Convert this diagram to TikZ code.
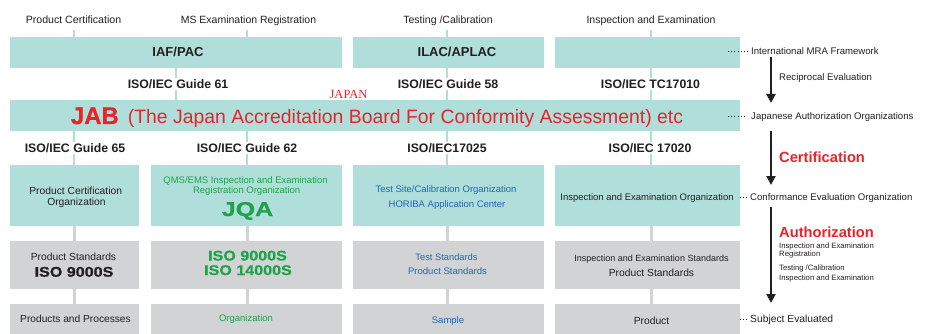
\documentclass[tikz,border=0pt]{standalone}
\usepackage{fontspec}
\setmainfont{Liberation Sans}
\newfontfamily\widebf{Liberation Sans}[FakeStretch=1.15, BoldFeatures={FakeBold=0.8}]
\newfontfamily\widerbf{Liberation Sans}[FakeStretch=1.25, BoldFeatures={FakeBold=0.8}]
\newfontfamily\heavybf{Liberation Sans}[BoldFeatures={FakeBold=0.8}]
\newfontfamily\serifjp{Liberation Serif}
\usetikzlibrary{arrows.meta}
\definecolor{tealbox}{HTML}{B0DEDA}
\definecolor{graybox}{HTML}{D1D3D4}
\definecolor{jred}{HTML}{E8232A}
\definecolor{jgreen}{HTML}{1EA34A}
\definecolor{jblue}{HTML}{2167B0}
\definecolor{txt}{HTML}{231F20}
\newcommand{\fsz}[1]{\fontsize{#1}{#1}\selectfont}
\tikzset{
  boxbase/.style={draw=none, inner sep=0, outer sep=0},
  tealb/.style={boxbase, fill=tealbox},
  grayb/.style={boxbase, fill=graybox},
  lbl/.style={inner sep=0, anchor=base, text=txt},
  hdr/.style={lbl, font=\bfseries\fsz{12.3}, fill=white, inner xsep=1pt, inner ysep=1.3pt},
  tealline/.style={draw=tealbox, line width=2.8pt},
  grayline/.style={draw=graybox, line width=3pt},
  dotline/.style={draw=txt, line width=0.9pt, dash pattern=on 0.9pt off 2.3pt},
  bigarrow/.style={draw=txt, line width=2pt, -{Triangle[width=9pt,length=9pt]}},
}
\begin{document}
\begin{tikzpicture}[x=1pt,y=-1pt]
\useasboundingbox (0,0) rectangle (926,334);
% column coordinates
\coordinate (c1) at (74,0);
\coordinate (c2) at (247,0);
\coordinate (c3) at (447,0);
\coordinate (c4) at (651,0);
\coordinate (c0) at (176,0);

% ---------- boxes ----------
\node[tealb, minimum width=332pt, minimum height=31pt] (iaf) at (176,52.5) {};
\node[tealb, minimum width=191pt, minimum height=31pt] (ilac) at (448.5,52.5) {};
\node[tealb, minimum width=185pt, minimum height=31pt] (tc) at (647.5,52.5) {};
\node[tealb, minimum width=730pt, minimum height=31pt] (jab) at (375,115.5) {};

\node[tealb, minimum width=129pt, minimum height=61pt] (r3a) at (74.5,195.5) {};
\node[tealb, minimum width=191pt, minimum height=61pt] (r3b) at (246.5,195.5) {};
\node[tealb, minimum width=191pt, minimum height=61pt] (r3c) at (448.5,195.5) {};
\node[tealb, minimum width=185pt, minimum height=61pt] (r3d) at (647.5,195.5) {};

\node[grayb, minimum width=129pt, minimum height=48pt] (r4a) at (74.5,265) {};
\node[grayb, minimum width=191pt, minimum height=48pt] (r4b) at (246.5,265) {};
\node[grayb, minimum width=191pt, minimum height=48pt] (r4c) at (448.5,265) {};
\node[grayb, minimum width=185pt, minimum height=48pt] (r4d) at (647.5,265) {};

\node[grayb, minimum width=129pt, minimum height=30pt] (r5a) at (74.5,319) {};
\node[grayb, minimum width=191pt, minimum height=30pt] (r5b) at (246.5,319) {};
\node[grayb, minimum width=191pt, minimum height=30pt] (r5c) at (448.5,319) {};
\node[grayb, minimum width=185pt, minimum height=30pt] (r5d) at (647.5,319) {};

% ---------- connectors ----------
% top ticks
\draw[tealline] (c1 |- iaf.north) -- ++(0,-6.5);
\draw[tealline] (c2 |- iaf.north) -- ++(0,-6.5);
\draw[tealline] (c3 |- ilac.north) -- ++(0,-6.5);
\draw[tealline] (c4 |- tc.north) -- ++(0,-6.5);
% row1 -> JAB
\draw[tealline] (c0 |- iaf.south) -- (c0 |- jab.north);
\draw[tealline] (c3 |- ilac.south) -- (c3 |- jab.north);
\draw[tealline] (c4 |- tc.south) -- (c4 |- jab.north);
% JAB -> row3
\draw[tealline] (c1 |- jab.south) -- (c1 |- r3a.north);
\draw[tealline] (c2 |- jab.south) -- (c2 |- r3b.north);
\draw[tealline] (c3 |- jab.south) -- (c3 |- r3c.north);
\draw[tealline] (c4 |- jab.south) -- (c4 |- r3d.north);
% row3 -> row4
\draw[grayline] (c1 |- r3a.south) -- (c1 |- r4a.north);
\draw[grayline] (c2 |- r3b.south) -- (c2 |- r4b.north);
\draw[grayline] (c3 |- r3c.south) -- (c3 |- r4c.north);
\draw[grayline] (c4 |- r3d.south) -- (c4 |- r4d.north);
% row4 -> row5
\draw[grayline] (c1 |- r4a.south) -- (c1 |- r5a.north);
\draw[grayline] (c2 |- r4b.south) -- (c2 |- r5b.north);
\draw[grayline] (c3 |- r4c.south) -- (c3 |- r5c.north);
\draw[grayline] (c4 |- r4d.south) -- (c4 |- r5d.north);

% ---------- top labels ----------
\node[lbl, font=\fsz{10.6}] (tpc) at (73.5,23.5) {Product Certification};
\node[lbl, font=\fsz{10.5}] (tms) at (248.5,23.5) {MS Examination Registration};
\node[lbl, font=\fsz{10.5}] (ttc) at (448,23.5) {Testing /Calibration};
\node[lbl, font=\fsz{10.5}] (tie) at (651,23.5) {Inspection and Examination};

% row 1 texts
\node[lbl, font=\bfseries\fsz{13}] (iaft) at (178,57) {IAF/PAC};
\node[lbl, font=\bfseries\fsz{13}] (ilact) at (457,57) {ILAC/APLAC};

% guide labels between row1 and JAB
\node[hdr] (g61) at (178,88.3) {ISO/IEC Guide 61};
\node[hdr] (g58) at (448,88.3) {ISO/IEC Guide 58};
\node[hdr] (tc17) at (650.5,88.3) {ISO/IEC TC17010};
\node[lbl, font=\serifjp\fsz{12.5}, text=jred] (japan) at (348.5,98.3) {JAPAN};

% JAB
\node[lbl, text=jred] (jabt) at (377,124) {{\heavybf\bfseries\fsz{24}JAB}\hspace{9pt}{\fsz{19.4}(The Japan Accreditation Board For Conformity Assessment) etc}};

% headers under JAB
\node[hdr] (g65) at (75,152.3) {ISO/IEC Guide 65};
\node[hdr] (g62) at (247,152.3) {ISO/IEC Guide 62};
\node[hdr] (i17025) at (447,152.3) {ISO/IEC17025};
\node[hdr] (i17020) at (650,152.3) {ISO/IEC 17020};

% row 3 texts
\node[lbl, font=\fsz{10.3}] (r3a1) at (75.7,194.7) {Product Certification};
\node[lbl, font=\fsz{10.3}] (r3a2) at (76.5,205) {Organization};
\node[lbl, font=\fsz{9.5}, text=jgreen] (r3b1) at (245.5,183.3) {QMS/EMS Inspection and Examination};
\node[lbl, font=\fsz{9.5}, text=jgreen] (r3b2) at (246.7,193.3) {Registration Organization};
\node[lbl, font=\widerbf\bfseries\fsz{20}, text=jgreen] (jqa) at (247.5,216) {JQA};
\node[lbl, font=\fsz{9.5}, text=jblue] (r3c1) at (446,192.3) {Test Site/Calibration Organization};
\node[lbl, font=\fsz{9.5}, text=jblue] (r3c2) at (447,207.7) {HORIBA Application Center};
\node[lbl, font=\fsz{9.5}] (r3d1) at (647,200) {Inspection and Examination Organization};

% row 4 texts
\node[lbl, font=\fsz{10.3}] (r4a1) at (73.5,260.7) {Product Standards};
\node[lbl, font=\widebf\bfseries\fsz{14}] (r4a2) at (74,276.7) {ISO 9000S};
\node[lbl, font=\widebf\bfseries\fsz{14}, text=jgreen] (r4b1) at (247.5,260.5) {ISO 9000S};
\node[lbl, font=\widebf\bfseries\fsz{14}, text=jgreen] (r4b2) at (248,275) {ISO 14000S};
\node[lbl, font=\fsz{9.3}, text=jblue] (r4c1) at (446.5,260) {Test Standards};
\node[lbl, font=\fsz{9.5}, text=jblue] (r4c2) at (447.5,274.3) {Product Standards};
\node[lbl, font=\fsz{9}] (r4d1) at (651.5,261.7) {Inspection and Examination Standards};
\node[lbl, font=\fsz{10.3}] (r4d2) at (651.5,276.7) {Product Standards};

% row 5 texts
\node[lbl, font=\fsz{10.2}] (r5a1) at (75.5,322.7) {Products and Processes};
\node[lbl, font=\fsz{9.5}, text=jgreen] (r5b1) at (246,321.7) {Organization};
\node[lbl, font=\fsz{9.5}, text=jblue] (r5c1) at (448,323.3) {Sample};
\node[lbl, font=\fsz{10.3}] (r5d1) at (651.5,324) {Product};

% ---------- right side legend ----------
\node[lbl, anchor=base west, font=\fsz{9.6}] (mra) at (751,55) {International MRA Framework};
\node[lbl, anchor=base west, font=\fsz{9.6}] (recip) at (779,81) {Reciprocal Evaluation};
\node[lbl, anchor=base west, font=\fsz{9.6}] (jao) at (751,120) {Japanese Authorization Organizations};
\node[lbl, anchor=base west, font=\bfseries\fsz{14.7}, text=jred] (cert) at (779,162.7) {Certification};
\node[lbl, anchor=base west, font=\fsz{9.6}] (ceo) at (750,200.7) {Conformance Evaluation Organization};
\node[lbl, anchor=base west, font=\bfseries\fsz{14.7}, text=jred] (auth) at (779,237.3) {Authorization};
\node[lbl, anchor=base west, font=\fsz{7.7}] (s1) at (779,248.3) {Inspection and Examination};
\node[lbl, anchor=base west, font=\fsz{7.7}] (s2) at (779,256.8) {Registration};
\node[lbl, anchor=base west, font=\fsz{7.7}] (s3) at (779,270) {Testing /Calibration};
\node[lbl, anchor=base west, font=\fsz{7.7}] (s4) at (779,280) {Inspection and Examination};
\node[lbl, anchor=base west, font=\fsz{10.3}] (subj) at (750,322.7) {Subject Evaluated};

% dotted leaders
\coordinate (d1) at (728,51.7);
\coordinate (d2) at (728,116.5);
\coordinate (d3) at (739.5,197);
\coordinate (d4) at (739.5,319);
\draw[dotline] (d1) -- ++(20,0);
\draw[dotline] (d2) -- ++(18,0);
\draw[dotline] (d3) -- ++(8.5,0);
\draw[dotline] (d4) -- ++(8.5,0);

% arrows
\coordinate (a1s) at (771,57.5);
\coordinate (a1e) at (771,103);
\coordinate (a2s) at (771,131.5);
\coordinate (a2e) at (771,185);
\coordinate (a3s) at (771,206.5);
\coordinate (a3e) at (771,303);
\draw[bigarrow] (a1s) -- (a1e);
\draw[bigarrow] (a2s) -- (a2e);
\draw[bigarrow] (a3s) -- (a3e);
\end{tikzpicture}
\end{document}
